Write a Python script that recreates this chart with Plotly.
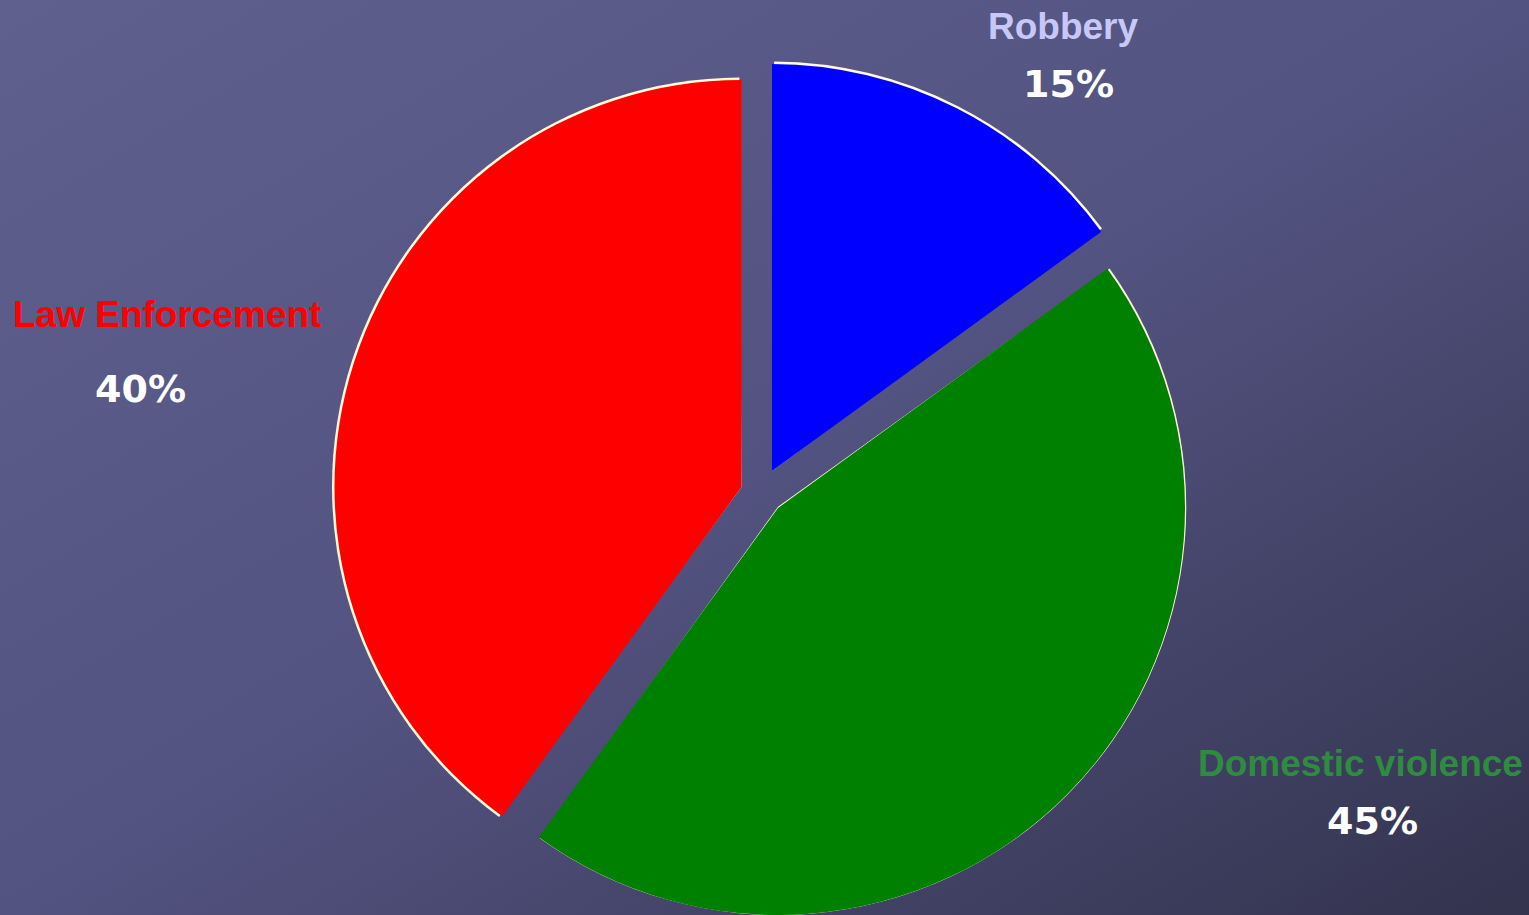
import base64
import plotly.graph_objects as go

# ---- data ----
labels = ["Robbery", "Domestic violence", "Law Enforcement"]
values = [15, 45, 40]
slice_colors = ["#0000ff", "#008000", "#ff0000"]
label_colors = ["#c8c8f8", "#2e8b40", "#ff0000"]
pct_text = ["15%", "45%", "40%"]

W, H = 1529, 915

# exploded slice apex positions (pixels) and radius
apex = [(772, 471), (778, 508), (741.5, 487)]
r = 407
rim = 2.5
TRANSPARENT = "rgba(0,0,0,0)"
RIM_COLOR = "#fffbd8"


def dom(ax, ay, radius):
    return dict(x=[(ax - radius) / W, (ax + radius) / W],
                y=[max(0.0, 1 - (ay + radius) / H), min(1.0, 1 - (ay - radius) / H)])


total = sum(values)
inset = total * 0.3 / 360.0  # tiny angular inset so the rim only shows on the arc

fig = go.Figure()
start = 0.0
for i in range(len(labels)):
    v = values[i]
    rim_vals = [start + inset, v - 2 * inset, total - start - v + inset]
    ax, ay = apex[i]
    fig.add_trace(go.Pie(
        values=rim_vals, sort=False, direction="clockwise", rotation=0,
        marker=dict(colors=[TRANSPARENT, RIM_COLOR, TRANSPARENT], line=dict(width=0)),
        textinfo="none", hoverinfo="skip", showlegend=False,
        domain=dom(ax, ay, r + rim),
    ))
    start += v

for i in range(len(labels)):
    cols = [slice_colors[j] if j == i else TRANSPARENT for j in range(len(labels))]
    ax, ay = apex[i]
    fig.add_trace(go.Pie(
        labels=labels, values=values, sort=False, direction="clockwise", rotation=0,
        marker=dict(colors=cols, line=dict(width=0)),
        textinfo="none", hoverinfo="skip", showlegend=False,
        domain=dom(ax, ay, r),
    ))

# label positions (pixels)
name_pos = [(1063, 27), (1360, 763), (167, 315)]
pct_pos = [(1068, 84), (1372, 821), (140, 389)]

for i in range(len(labels)):
    nx, ny = name_pos[i]
    fig.add_annotation(x=nx / W, y=1 - ny / H, xref="paper", yref="paper",
                       text=f"<b>{labels[i]}</b>", showarrow=False,
                       xanchor="center", yanchor="middle",
                       font=dict(family="Liberation Sans, Arial", size=37, color=label_colors[i]))
    px_, py_ = pct_pos[i]
    fig.add_annotation(x=px_ / W, y=1 - py_ / H, xref="paper", yref="paper",
                       text=f"<b>{pct_text[i]}</b>", showarrow=False,
                       xanchor="center", yanchor="middle",
                       font=dict(family="DejaVu Sans", size=38, color="#ffffff"))

# background gradient
svg = f'''<svg xmlns="http://www.w3.org/2000/svg" width="{W}" height="{H}" viewBox="0 0 {W} {H}" preserveAspectRatio="none">
<defs><linearGradient id="g" x1="0" y1="0" x2="1" y2="1">
<stop offset="0" stop-color="#60608f"/>
<stop offset="0.5" stop-color="#535381"/>
<stop offset="1" stop-color="#33334e"/>
</linearGradient></defs>
<rect x="0" y="0" width="{W}" height="{H}" fill="url(#g)"/>
</svg>'''
uri = "data:image/svg+xml;base64," + base64.b64encode(svg.encode()).decode()

fig.update_layout(
    width=W, height=H,
    margin=dict(l=0, r=0, t=0, b=0),
    paper_bgcolor="#4a4a75", plot_bgcolor="rgba(0,0,0,0)",
    images=[dict(source=uri, xref="paper", yref="paper", x=0, y=1,
                 sizex=1, sizey=1, xanchor="left", yanchor="top",
                 sizing="stretch", layer="below")],
)

fig.write_html("out.html")
